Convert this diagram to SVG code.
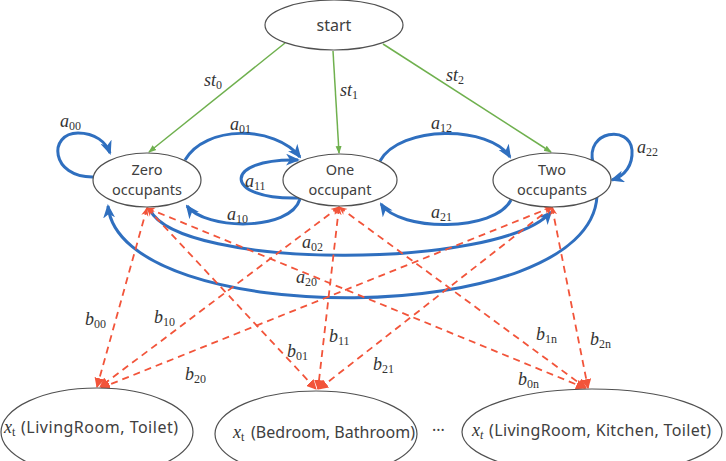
<svg xmlns="http://www.w3.org/2000/svg" width="726" height="461" viewBox="0 0 726 461">
<style>
.node{fill:#fff;stroke:#505050;stroke-width:1.2}
.nt{font-family:"Noto Sans","Open Sans",sans-serif;font-size:14.5px;fill:#404040;text-anchor:middle}
.bt{font-family:"Noto Sans","Open Sans",sans-serif;font-size:16px;fill:#404040}
.m{font-family:"Liberation Serif","DejaVu Serif",serif;font-size:18px;fill:#333;font-style:italic}
.sub{font-style:normal;font-size:12px}
.g{fill:none;stroke:#6fb04e;stroke-width:1.5;marker-end:url(#ga)}
.b{fill:none;stroke:#2f6fbf;stroke-width:3;marker-end:url(#ba)}
.r{fill:none;stroke:#f2543a;stroke-width:1.8;stroke-dasharray:7 5;marker-end:url(#ra);marker-start:url(#rs)}
</style>
<defs>
<marker id="ga" markerUnits="userSpaceOnUse" markerWidth="8" markerHeight="8" viewBox="0 0 8 8" refX="7" refY="4" orient="auto"><path d="M0,1 L8,4 L0,7 z" fill="#6fb04e"/></marker>
<marker id="ba" markerUnits="userSpaceOnUse" markerWidth="14" markerHeight="12" viewBox="0 0 14 12" refX="12" refY="6" orient="auto"><path d="M0,0 L14,6 L0,12 L4,6 z" fill="#2f6fbf"/></marker>
<marker id="ra" markerUnits="userSpaceOnUse" markerWidth="10" markerHeight="10" viewBox="0 0 10 10" refX="9" refY="5" orient="auto"><path d="M0,0 L10,5 L0,10 z" fill="#f2543a"/></marker>
<marker id="rs" markerUnits="userSpaceOnUse" markerWidth="9" markerHeight="9" viewBox="0 0 10 10" refX="9" refY="5" orient="auto-start-reverse"><path d="M0,1 L10,5 L0,9 L3,5 z" fill="#f2543a"/></marker>
</defs>

<g id="connectors">
<path class="g" d="M285,43 L149,152"/>
<path class="g" d="M333,51 L339,153"/>
<path class="g" d="M383,44 L551,152"/>

<path class="b" d="M94,177 C50,178 48,133 78,133 C95,133 106,142 110,153"/>
<path class="b" d="M185,160 C205,125 275,125 300,157"/>
<path class="b" d="M299,198 C222,200 222,158 298,160"/>
<path class="b" d="M300,199 C290,232 205,230 187,206"/>
<path class="b" d="M380,161 C400,125 490,125 510,157"/>
<path class="b" d="M511,200 C495,232 400,232 381,204"/>
<path class="b" d="M593,163 C585,130 630,125 632,150 C633,165 625,176 612,180"/>
<path class="b" d="M150,210 C180,270 500,270 551,212"/>
<path class="b" d="M597,196 C590,330 120,330 108,206"/>

<path class="r" d="M147,208 L97,387"/>
<path class="r" d="M147,208 L316,389"/>
<path class="r" d="M147,208 L585,388"/>
<path class="r" d="M339,207 L100,387"/>
<path class="r" d="M339,207 L318,389"/>
<path class="r" d="M339,207 L586,388"/>
<path class="r" d="M552,207 L101,388"/>
<path class="r" d="M552,207 L319,389"/>
<path class="r" d="M552,207 L588,388"/>
</g>

<g id="labels">
<text class="m" x="204" y="86">st<tspan class="sub" dy="3">0</tspan></text>
<text class="m" x="340" y="96">st<tspan class="sub" dy="3">1</tspan></text>
<text class="m" x="446" y="81">st<tspan class="sub" dy="3">2</tspan></text>
<text class="m" x="60" y="127">a<tspan class="sub" dy="3">00</tspan></text>
<text class="m" x="230" y="130">a<tspan class="sub" dy="3">01</tspan></text>
<text class="m" x="245" y="187">a<tspan class="sub" dy="3">11</tspan></text>
<text class="m" x="227" y="220">a<tspan class="sub" dy="3">10</tspan></text>
<text class="m" x="431" y="129">a<tspan class="sub" dy="3">12</tspan></text>
<text class="m" x="431" y="218">a<tspan class="sub" dy="3">21</tspan></text>
<text class="m" x="637" y="153">a<tspan class="sub" dy="3">22</tspan></text>
<text class="m" x="302" y="248">a<tspan class="sub" dy="3">02</tspan></text>
<text class="m" x="296" y="283">a<tspan class="sub" dy="3">20</tspan></text>
<text class="m" x="85" y="325">b<tspan class="sub" dy="3">00</tspan></text>
<text class="m" x="154" y="323">b<tspan class="sub" dy="3">10</tspan></text>
<text class="m" x="185" y="380">b<tspan class="sub" dy="3">20</tspan></text>
<text class="m" x="287" y="357">b<tspan class="sub" dy="3">01</tspan></text>
<text class="m" x="329" y="342">b<tspan class="sub" dy="3">11</tspan></text>
<text class="m" x="373" y="370">b<tspan class="sub" dy="3">21</tspan></text>
<text class="m" x="518" y="385">b<tspan class="sub" dy="3">0n</tspan></text>
<text class="m" x="536" y="340">b<tspan class="sub" dy="3">1n</tspan></text>
<text class="m" x="590" y="345">b<tspan class="sub" dy="3">2n</tspan></text>
<text class="bt" x="432" y="436">···</text>
</g>

<g id="start"><ellipse class="node" cx="334" cy="25" rx="69" ry="25"/><text class="nt" x="334" y="31" style="font-size:16px">start</text></g>
<g id="zero"><ellipse class="node" cx="147" cy="180" rx="54" ry="27"/><text class="nt" x="147" y="175">Zero</text><text class="nt" x="147" y="195">occupants</text></g>
<g id="one"><ellipse class="node" cx="340" cy="180" rx="57" ry="26"/><text class="nt" x="340" y="175">One</text><text class="nt" x="340" y="195">occupant</text></g>
<g id="two"><ellipse class="node" cx="552" cy="180" rx="59" ry="27"/><text class="nt" x="552" y="175">Two</text><text class="nt" x="552" y="195">occupants</text></g>

<g id="obs1"><ellipse class="node" cx="97" cy="432" rx="96" ry="44"/><text class="m" x="4" y="433">x<tspan class="sub" dy="3">t</tspan></text><text class="bt" x="21" y="433" textLength="157" lengthAdjust="spacing">(LivingRoom, Toilet)</text></g>
<g id="obs2"><ellipse class="node" cx="316" cy="434" rx="101" ry="43"/><text class="m" x="233" y="438">x<tspan class="sub" dy="3">t</tspan></text><text class="bt" x="251" y="438" textLength="164" lengthAdjust="spacing">(Bedroom, Bathroom)</text></g>
<g id="obs3"><ellipse class="node" cx="592" cy="432" rx="130" ry="43"/><text class="m" x="472" y="436">x<tspan class="sub" style="font-style:italic" dy="3">t</tspan></text><text class="bt" x="489" y="436" textLength="222" lengthAdjust="spacing">(LivingRoom, Kitchen, Toilet)</text></g>
</svg>
